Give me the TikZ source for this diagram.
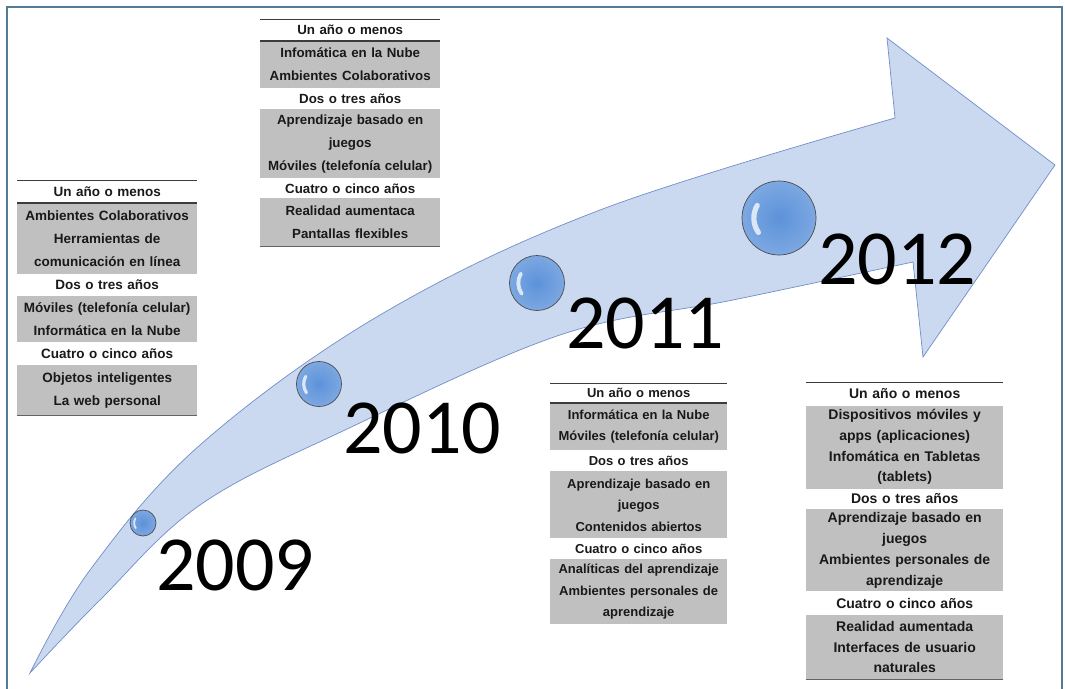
\documentclass[tikz,border=0pt]{standalone}
\usepackage{fontspec}
\setmainfont{Liberation Sans}
\newfontfamily\yearfont{Carlito}
\usetikzlibrary{positioning}

\definecolor{framecol}{RGB}{84,122,150}
\definecolor{arrowfill}{RGB}{202,216,240}
\definecolor{arrowedge}{RGB}{112,142,200}
\definecolor{ballblue}{RGB}{92,146,218}
\definecolor{tablegray}{RGB}{192,192,192}
\definecolor{rulecol}{RGB}{60,60,60}

\tikzset{
  year/.style={anchor=base west, inner sep=0pt, font=\yearfont\fontsize{78}{78}\selectfont},
  ball/.style={circle, inner sep=0pt, minimum size=#1, draw=black!70, line width=0.7pt,
    inner color=ballblue, outer color=ballblue!80!white,
    path picture={\draw[white, opacity=0.75, line width=0.07*#1, line cap=round]
      ([shift={(215:0.34*#1)}]path picture bounding box.center)
      arc[start angle=215, end angle=150, radius=0.34*#1];}},
  cell/.style={inner sep=0pt, align=center, minimum height=#1, text=black!90},
  shade/.style={cell=#1, fill=tablegray},
  toprule/.style={rulecol, line width=1pt},
  midrule/.style={rulecol, line width=2pt},
  botrule/.style={rulecol!80, line width=1.5pt}
}

\begin{document}
\begin{tikzpicture}[x=1pt, y=-1pt]
\useasboundingbox (0,0) rectangle (1065,688);

% frame
\draw[framecol, line width=2.5pt] (7,700) -- (7,7) -- (1062,7) -- (1062,700);

% the big arrow
\draw[fill=arrowfill, draw=arrowedge, line width=0.7pt]
  plot[smooth, tension=0.6] coordinates {(30,673) (90,570) (200,445) (380,315) (600,210) (895,118)}
  -- (887,38) -- (1055,165) -- (923,357) -- (913,262)
  -- plot[smooth, tension=0.6] coordinates {(913,262) (733,300) (560,335) (345,430) (200,505) (100,600) (30,673)}
  -- cycle;

% 2009
\begin{scope}[every node/.append style={text width=180pt}, font=\bfseries\fontsize{13.5}{23}\selectfont]
\node[cell=23pt, anchor=north west] (a-h) at (17,180) {Un año o menos};
\node[shade=70pt, below=0pt of a-h] (a-1) {Ambientes Colaborativos\\Herramientas de\\comunicación en línea};
\node[cell=22pt, below=0pt of a-1] (a-d) {Dos o tres años};
\node[shade=46pt, below=0pt of a-d] (a-2) {Móviles (telefonía celular)\\Informática en la Nube};
\node[cell=22pt, below=0pt of a-2] (a-c) {Cuatro o cinco años};
\node[shade=50pt, below=0pt of a-c] (a-3) {Objetos inteligentes\\La web personal};
\draw[toprule] (a-h.north west) -- (a-h.north east);
\draw[midrule] (a-h.south west) -- (a-h.south east);
\draw[botrule] (a-3.south west) -- (a-3.south east);
\end{scope}

% 2010
\begin{scope}[every node/.append style={text width=180pt}, font=\bfseries\fontsize{13.3}{23}\selectfont]
\node[cell=22pt, anchor=north west] (b-h) at (260,19) {Un año o menos};
\node[shade=46pt, below=0pt of b-h] (b-1) {Infomática en la Nube\\Ambientes Colaborativos};
\node[cell=21pt, below=0pt of b-1] (b-d) {Dos o tres años};
\node[shade=69pt, below=0pt of b-d] (b-2) {Aprendizaje basado en\\juegos\\Móviles (telefonía celular)};
\node[cell=19pt, below=0pt of b-2] (b-c) {Cuatro o cinco años};
\node[shade=48pt, below=0pt of b-c] (b-3) {Realidad aumentaca\\Pantallas flexibles};
\draw[toprule] (b-h.north west) -- (b-h.north east);
\draw[midrule] (b-h.south west) -- (b-h.south east);
\draw[botrule] (b-3.south west) -- (b-3.south east);
\end{scope}

% 2011
\begin{scope}[every node/.append style={text width=177pt}, font=\bfseries\fontsize{13}{21.5}\selectfont]
\node[cell=20pt, anchor=north west] (c-h) at (550,383) {Un año o menos};
\node[shade=46pt, below=0pt of c-h] (c-1) {Informática en la Nube\\Móviles (telefonía celular)};
\node[cell=21pt, below=0pt of c-1] (c-d) {Dos o tres años};
\node[shade=67pt, below=0pt of c-d] (c-2) {Aprendizaje basado en\\juegos\\Contenidos abiertos};
\node[cell=20pt, below=0pt of c-2] (c-c) {Cuatro o cinco años};
\node[shade=65pt, below=0pt of c-c] (c-3) {Analíticas del aprendizaje\\Ambientes personales de\\aprendizaje};
\draw[toprule] (c-h.north west) -- (c-h.north east);
\draw[midrule] (c-h.south west) -- (c-h.south east);
\end{scope}

% 2012
\begin{scope}[every node/.append style={text width=197pt}, font=\bfseries\fontsize{14}{20.7}\selectfont]
\node[cell=23pt, anchor=north west] (d-h) at (806,382) {Un año o menos};
\node[shade=83pt, below=0pt of d-h] (d-1) {Dispositivos móviles y\\apps (aplicaciones)\\Infomática en Tabletas\\(tablets)};
\node[cell=20pt, below=0pt of d-1] (d-d) {Dos o tres años};
\node[shade=82pt, below=0pt of d-d] (d-2) {Aprendizaje basado en\\juegos\\Ambientes personales de\\aprendizaje};
\node[cell=23pt, below=0pt of d-2] (d-c) {Cuatro o cinco años};
\node[shade=64pt, below=0pt of d-c] (d-3) {Realidad aumentada\\Interfaces de usuario\\naturales};
\draw[toprule] (d-h.north west) -- (d-h.north east);
\draw[botrule] (d-3.south west) -- (d-3.south east);
\end{scope}

% balls and years
\node[ball=26pt] (c09) at (143,523) {};
\node[ball=45pt] (c10) at (319,384) {};
\node[ball=55pt] (c11) at (537,283) {};
\node[ball=74pt] (c12) at (779,218) {};

\node[year] (y09) at (156,590) {2009};
\node[year] (y10) at (343,453) {2010};
\node[year] (y11) at (566,348) {2011};
\node[year] (y12) at (818,284) {2012};
\end{tikzpicture}
\end{document}
